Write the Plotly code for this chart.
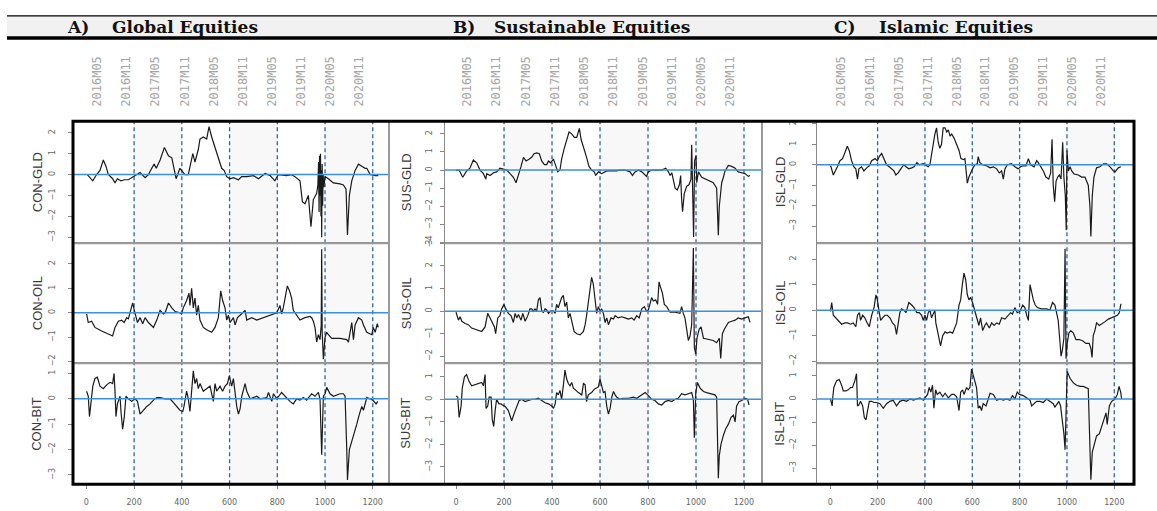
import plotly.graph_objects as go
import math

# ---------------- data (index, value) ----------------
con_gld = [(4,0.0),(27,-0.3),(43,0.0),(57,0.2),(71,0.7),(82,0.4),(92,0.0),(110,-0.2),(120,-0.4),(130,-0.2),
           (145,-0.3),(160,-0.25),(176,-0.25),(197,-0.1),(214,0.0),(225,0.1),(246,-0.15),(260,0.0),(274,0.3),(284,0.5),
           (293,0.3),(309,0.7),(327,1.3),(344,0.9),(358,0.8),(376,-0.2),(392,0.3),(404,0.1),(413,0.0),(427,0.0),
           (446,1.0),(455,0.6),(469,1.2),(476,1.7),(490,1.8),(504,1.7),(514,2.3),(525,1.8),(539,1.3),(553,0.7),
           (567,0.3),(577,0.2),(588,-0.1),(602,-0.2),(616,-0.15),(637,-0.25),(651,-0.1),(672,-0.1),(700,-0.05),(721,-0.2),
           (749,0.05),(770,-0.05),(790,-0.3),(804,0.0),(839,-0.05),(860,0.0),(874,-0.1),(895,-0.3),(905,-1.3),(916,-1.4),
           (930,-1.0),(941,-2.5),(951,-1.2),(965,-0.9),(970,-0.5),(973,0.6),(975,-1.8),(977,0.9),(979,-1.0),(981,1.0),
           (983,-2.0),(985,0.2),(986,-3.0),(988,0.5),(990,-1.5),(992,0.0),(995,-0.6),(1000,-0.1),(1014,-0.2),(1035,-0.4),
           (1063,-0.45),(1077,-0.5),(1088,-0.7),(1094,-2.9),(1102,-1.0),(1112,-0.3),(1126,0.2),(1140,0.5),(1154,0.4),(1168,0.3),
           (1175,0.3),(1189,0.0),(1210,-0.05),(1223,-0.05)]
con_oil = [(1,-0.05),(8,-0.4),(22,-0.35),(36,-0.6),(64,-0.75),(78,-0.8),(99,-0.9),(110,-0.95),(120,-0.6),(134,-0.35),
           (148,-0.3),(158,-0.4),(169,-0.2),(176,-0.25),(183,0.0),(194,0.4),(201,0.1),(214,-0.4),(225,-0.2),(236,-0.45),
           (246,-0.2),(260,-0.4),(281,-0.6),(295,-0.3),(309,0.1),(323,-0.05),(330,0.0),(344,0.4),(358,0.2),(372,0.05),
           (392,0.0),(399,-0.05),(406,0.2),(420,0.5),(430,0.8),(434,0.3),(441,1.0),(448,0.2),(455,0.6),(462,-0.1),
           (469,0.3),(476,-0.3),(490,-0.6),(504,-0.7),(525,-0.8),(539,-0.6),(553,-0.2),(563,0.9),(571,0.5),(581,0.2),
           (588,-0.3),(595,-0.1),(602,-0.4),(616,-0.2),(623,-0.5),(633,-0.2),(644,-0.1),(665,0.1),(672,-0.3),(693,-0.2),
           (714,-0.3),(742,-0.2),(756,-0.15),(777,-0.1),(790,-0.05),(798,0.0),(811,0.3),(818,-0.05),(825,0.2),(842,1.1),
           (851,0.9),(860,0.6),(867,0.1),(881,-0.1),(895,-0.3),(916,-0.2),(937,-0.15),(944,-0.2),(951,-0.35),(958,-0.6),
           (965,-1.2),(972,-0.9),(979,-1.1),(984,-0.5),(986,2.6),(988,-0.8),(993,-1.9),(1000,-1.0),(1007,-0.8),(1014,-0.9),
           (1028,-1.05),(1063,-1.05),(1091,-1.1),(1098,-1.2),(1105,-0.7),(1112,-0.4),(1119,-1.1),(1126,-0.5),(1140,-0.2),(1154,-0.3),
           (1161,-0.5),(1175,-0.8),(1196,-0.9),(1202,-0.6),(1210,-0.8),(1219,-0.45),(1223,-0.6)]
con_bit = [(1,0.3),(4,0.2),(8,0.1),(13,-0.7),(18,-0.2),(27,0.5),(36,0.8),(46,0.85),(57,0.5),(71,0.4),
           (85,0.55),(99,0.65),(110,0.6),(116,1.0),(120,0.3),(124,-0.7),(130,-0.2),(141,0.1),(145,-0.5),(152,-1.2),
           (159,-0.7),(166,0.1),(176,0.0),(190,-0.1),(204,0.0),(214,-0.1),(225,-0.6),(239,-0.45),(253,-0.3),(267,-0.2),
           (281,-0.05),(295,0.05),(309,0.05),(330,0.0),(351,0.0),(365,-0.15),(378,-0.3),(392,-0.45),(404,-0.5),(409,-0.3),
           (420,0.3),(427,0.0),(434,-0.5),(441,0.3),(448,1.1),(455,0.6),(462,0.8),(469,0.4),(476,0.6),(490,0.3),
           (504,0.4),(518,0.5),(525,0.2),(532,-0.1),(539,0.6),(546,0.3),(560,0.5),(571,0.3),(581,0.5),(591,0.6),
           (599,0.9),(609,0.5),(616,0.8),(623,0.1),(630,-0.3),(637,-0.6),(644,-0.4),(651,0.1),(658,0.4),(665,0.6),
           (672,0.3),(686,0.0),(700,0.05),(714,0.1),(728,0.0),(756,0.05),(763,0.25),(770,0.1),(777,-0.1),(784,0.2),
           (798,0.0),(818,0.25),(832,0.1),(853,-0.1),(867,-0.2),(881,0.0),(895,-0.05),(909,0.05),(923,-0.05),(944,0.2),
           (958,0.1),(972,0.25),(979,0.0),(986,-2.2),(993,0.1),(1000,0.2),(1007,0.45),(1021,0.2),(1035,0.1),(1049,0.15),
           (1063,0.2),(1077,0.2),(1084,0.1),(1091,-2.0),(1094,-3.2),(1102,-2.0),(1112,-1.7),(1126,-1.3),(1133,-1.0),(1144,-0.6),
           (1154,-0.3),(1161,-0.45),(1168,-0.2),(1175,0.05),(1189,0.0),(1200,-0.05),(1214,-0.2),(1221,-0.1)]

sus_gld = [(0,0.0),(13,0.0),(24,-0.3),(28,-0.4),(44,-0.05),(58,0.1),(72,0.55),(86,0.4),(100,0.0),(114,-0.2),
           (124,-0.5),(128,-0.2),(142,-0.3),(156,-0.15),(169,-0.1),(183,0.1),(197,0.05),(211,0.0),(225,-0.2),(239,-0.4),
           (250,-0.7),(260,-0.3),(271,0.2),(281,0.7),(292,0.5),(304,0.6),(315,0.7),(325,0.9),(336,0.95),(347,0.9),
           (357,0.5),(368,0.3),(378,0.3),(385,0.5),(394,0.4),(406,0.6),(413,0.3),(424,-0.1),(433,0.0),(440,0.6),
           (451,1.2),(461,1.6),(471,2.1),(482,2.0),(493,1.8),(503,1.8),(514,2.3),(521,1.7),(531,1.3),(544,0.7),
           (554,0.2),(565,0.0),(576,-0.1),(582,-0.3),(593,-0.1),(607,-0.2),(628,-0.05),(649,-0.05),(669,-0.05),(683,0.0),
           (704,0.0),(725,-0.1),(735,-0.3),(746,-0.1),(760,0.0),(774,-0.1),(794,-0.35),(801,-0.1),(815,0.0),(836,0.0),
           (857,0.0),(874,0.1),(885,-0.1),(892,-0.3),(899,-0.15),(913,-1.0),(922,-1.1),(931,-0.8),(936,-0.3),(940,-1.6),
           (944,-2.3),(951,-1.3),(961,-0.9),(971,-0.8),(979,-0.5),(982,1.4),(986,-0.8),(990,-3.7),(994,0.5),(1000,0.8),
           (1003,-0.7),(1010,-0.1),(1024,-0.4),(1038,-0.5),(1058,-0.6),(1072,-0.7),(1086,-1.0),(1090,-2.5),(1093,-3.6),(1097,-2.0),
           (1107,-0.7),(1114,-0.4),(1121,-0.05),(1135,0.25),(1149,0.2),(1163,0.1),(1176,-0.1),(1190,-0.15),(1204,-0.2),(1218,-0.35),
           (1225,-0.3)]
sus_oil = [(0,-0.05),(10,-0.4),(17,-0.25),(24,-0.45),(38,-0.55),(51,-0.6),(65,-0.75),(79,-0.8),(93,-0.85),(107,-0.9),
           (121,-0.7),(132,-0.1),(142,-0.3),(151,-0.5),(160,-0.7),(165,-1.0),(174,-0.3),(183,-0.2),(190,0.1),(200,0.3),
           (207,0.1),(218,-0.1),(229,-0.2),(239,-0.5),(246,-0.1),(253,-0.3),(260,-0.15),(271,-0.4),(278,-0.1),(288,-0.45),
           (299,-0.2),(308,0.1),(315,0.1),(322,0.0),(329,0.1),(336,0.0),(343,0.5),(350,0.6),(357,0.0),(364,-0.05),
           (371,0.1),(378,0.05),(385,-0.1),(394,0.0),(406,0.0),(413,-0.1),(419,0.3),(426,0.15),(433,0.4),(440,0.6),
           (447,0.7),(454,0.2),(461,0.4),(468,-0.3),(475,-0.1),(482,-0.5),(492,-0.9),(503,-1.0),(517,-1.05),(531,-0.9),
           (538,-0.6),(544,-0.2),(551,0.4),(558,0.8),(565,1.5),(572,1.2),(579,0.6),(586,-0.1),(593,0.2),(600,0.0),
           (607,0.1),(614,-0.1),(621,-0.5),(628,-0.3),(635,-0.6),(646,-0.3),(656,-0.35),(663,-0.2),(676,-0.3),(690,-0.25),
           (704,-0.3),(718,-0.35),(732,-0.3),(742,-0.4),(753,-0.2),(763,-0.3),(774,0.1),(785,0.2),(794,0.0),(801,0.05),
           (808,0.3),(815,0.6),(822,0.45),(832,0.5),(840,0.3),(846,1.3),(851,1.1),(860,0.8),(868,0.3),(878,0.2),
           (892,-0.05),(913,-0.05),(933,-0.1),(940,0.2),(947,-0.1),(954,-0.3),(961,-0.8),(968,-1.3),(975,-1.1),(982,-0.6),
           (989,2.8),(993,-1.6),(999,-1.9),(1004,-1.2),(1013,-0.8),(1021,-0.7),(1031,-1.2),(1051,-1.25),(1072,-1.3),(1086,-1.4),
           (1097,-1.2),(1103,-2.1),(1110,-1.0),(1118,-0.8),(1128,-0.6),(1135,-0.5),(1149,-0.45),(1163,-0.4),(1176,-0.3),(1190,-0.35),
           (1204,-0.3),(1218,-0.25),(1225,-0.5)]
sus_bit = [(0,0.15),(7,0.1),(13,-0.8),(21,-0.3),(26,0.5),(35,1.0),(44,1.1),(54,0.8),(65,0.6),(79,0.65),
           (93,0.7),(107,0.75),(114,0.6),(121,1.1),(125,-0.4),(132,-0.3),(138,0.1),(146,0.1),(151,-0.9),(157,-1.2),
           (163,-0.5),(169,0.0),(179,-0.2),(188,-0.2),(193,-0.25),(204,-0.3),(218,-0.5),(232,-0.95),(243,-0.6),(253,-0.35),
           (263,-0.05),(274,0.0),(288,-0.1),(301,-0.05),(315,0.0),(329,0.0),(343,0.05),(357,-0.05),(371,-0.15),(385,-0.2),
           (399,-0.3),(406,-0.4),(413,-0.2),(419,0.3),(426,0.2),(433,0.4),(440,0.0),(447,0.6),(454,1.3),(461,0.9),
           (468,0.7),(475,0.6),(482,0.75),(489,0.5),(499,0.4),(510,0.3),(524,0.2),(531,0.7),(538,0.65),(544,-0.1),
           (551,0.2),(565,0.3),(576,0.45),(586,0.5),(593,0.55),(600,0.9),(607,0.6),(614,0.3),(621,0.35),(628,-0.3),
           (635,-0.65),(642,-0.4),(649,0.1),(656,0.35),(663,0.2),(669,0.1),(683,0.0),(697,0.05),(718,0.05),(739,0.1),
           (753,0.05),(774,0.2),(788,0.3),(799,0.2),(808,0.1),(815,0.0),(829,-0.05),(843,-0.2),(857,-0.25),(871,-0.1),
           (885,-0.05),(899,-0.1),(913,0.0),(926,0.05),(940,0.25),(954,0.2),(968,0.25),(982,0.3),(989,0.0),(993,-1.7),
           (999,0.3),(1006,0.75),(1017,0.5),(1031,0.35),(1044,0.3),(1058,0.25),(1079,0.2),(1086,0.1),(1090,-1.5),(1093,-3.5),
           (1097,-2.5),(1104,-2.0),(1114,-1.6),(1124,-1.3),(1135,-1.1),(1146,-0.8),(1156,-0.7),(1163,-1.0),(1169,-0.3),(1179,-0.1),
           (1190,-0.05),(1204,0.05),(1215,0.0),(1221,-0.25)]

isl_gld = [(1,-0.05),(3,-0.1),(13,-0.5),(20,-0.3),(30,-0.1),(41,0.2),(52,0.3),(62,0.6),(72,0.9),(80,0.7),
           (90,0.2),(100,-0.1),(108,-0.2),(115,-0.7),(121,-0.2),(132,-0.1),(142,-0.3),(154,-0.15),(165,-0.05),(175,0.2),
           (189,0.3),(199,0.2),(207,0.4),(217,0.55),(227,0.3),(238,0.0),(249,-0.1),(259,-0.2),(269,-0.3),(277,-0.5),
           (287,-0.4),(301,-0.15),(311,0.0),(320,-0.1),(332,-0.2),(344,-0.15),(354,-0.1),(366,0.1),(376,0.0),(393,0.05),
           (407,-0.05),(414,-0.1),(421,0.0),(428,0.5),(434,1.0),(442,1.5),(449,1.8),(456,1.1),(463,0.8),(470,1.0),
           (477,1.8),(485,1.8),(492,1.6),(499,1.7),(506,1.4),(513,1.5),(523,1.3),(534,1.0),(544,0.7),(552,0.3),
           (562,0.25),(569,0.3),(573,-0.2),(579,-0.9),(586,-0.6),(593,-0.4),(601,-0.2),(611,0.0),(621,0.05),(625,0.4),
           (632,0.1),(644,0.0),(660,-0.05),(675,-0.15),(689,-0.1),(703,-0.2),(714,-0.4),(724,-0.3),(731,-0.7),(738,-0.2),
           (748,0.0),(766,0.05),(780,-0.1),(794,-0.2),(804,-0.1),(815,-0.05),(827,-0.05),(837,0.3),(846,0.0),(861,-0.1),
           (872,0.2),(879,0.1),(889,-0.1),(900,-0.3),(911,-0.6),(923,-0.7),(931,-0.4),(937,1.25),(942,-1.0),(948,-1.8),
           (954,-0.8),(961,-0.6),(968,-0.5),(975,-0.7),(982,1.1),(987,-0.6),(993,-1.5),(997,-3.2),(1000,0.7),(1006,-0.3),
           (1013,-0.1),(1020,-0.3),(1030,-0.45),(1048,-0.5),(1062,-0.6),(1076,-0.6),(1090,-1.0),(1097,-2.0),(1101,-3.5),(1107,-1.5),
           (1114,-0.6),(1125,-0.15),(1139,-0.1),(1154,0.05),(1168,0.05),(1182,-0.1),(1196,-0.3),(1203,-0.35),(1217,-0.15),(1228,-0.1)]
isl_oil = [(1,-0.05),(6,0.3),(13,-0.2),(24,-0.3),(34,-0.4),(48,-0.55),(62,-0.5),(73,-0.5),(86,-0.55),(97,-0.5),
           (108,-0.65),(115,-0.2),(123,-0.1),(128,-0.4),(137,-0.2),(146,-0.3),(156,-0.5),(165,-0.65),(175,-0.2),(185,0.1),
           (193,0.6),(199,0.4),(207,-0.1),(213,-0.4),(221,-0.3),(231,-0.2),(241,-0.2),(252,-0.3),(263,-0.5),(273,-0.6),
           (280,-0.95),(287,-0.5),(294,-0.1),(301,0.05),(311,0.0),(320,-0.1),(332,0.3),(344,0.2),(354,0.1),(366,-0.1),
           (376,-0.1),(386,-0.2),(393,-0.4),(400,-0.2),(407,-0.4),(414,-0.1),(421,0.0),(428,-0.3),(438,-0.1),(442,0.0),
           (446,-0.5),(454,-0.9),(461,-1.3),(466,-1.4),(475,-1.0),(485,-0.85),(494,-0.9),(506,-0.85),(517,-0.9),(527,-0.7),
           (534,-0.5),(544,0.2),(551,0.4),(558,1.0),(565,1.45),(572,1.2),(579,0.6),(586,0.4),(593,0.5),(601,0.3),
           (607,0.1),(617,-0.2),(621,-0.4),(628,-0.6),(635,-0.3),(644,-0.8),(653,-0.6),(660,-0.5),(672,-0.7),(682,-0.5),
           (692,-0.6),(703,-0.5),(714,-0.55),(724,-0.3),(738,-0.35),(752,-0.2),(762,-0.1),(770,-0.15),(780,0.1),(790,-0.1),
           (801,-0.05),(813,0.2),(822,0.1),(830,-0.2),(837,-0.4),(844,1.0),(851,0.7),(858,0.4),(866,0.2),(875,0.1),
           (893,0.05),(914,0.05),(928,0.0),(939,0.3),(949,0.2),(956,-0.1),(963,-0.4),(970,-1.2),(975,-1.8),(980,-1.6),
           (987,-1.1),(992,2.4),(996,-1.9),(1001,-1.3),(1008,-0.9),(1016,-0.8),(1027,-0.9),(1038,-1.15),(1052,-1.15),(1066,-1.2),
           (1080,-1.3),(1094,-1.3),(1101,-1.5),(1106,-1.85),(1111,-1.0),(1118,-0.8),(1125,-0.5),(1137,-0.6),(1146,-0.55),(1161,-0.45),
           (1175,-0.35),(1189,-0.3),(1203,-0.25),(1213,-0.2),(1221,-0.1),(1228,0.25)]
isl_bit = [(1,0.0),(4,-0.1),(8,-0.3),(10,0.0),(15,0.5),(27,0.8),(38,0.85),(48,0.6),(55,0.35),(66,0.35),
           (76,0.4),(86,0.5),(94,0.5),(104,0.8),(111,1.1),(115,-0.3),(121,-0.25),(128,-0.1),(137,-0.3),(144,-0.8),
           (151,-0.9),(156,-0.6),(165,-0.1),(175,-0.1),(185,-0.15),(196,-0.15),(210,-0.2),(224,-0.4),(238,-0.2),(252,-0.1),
           (266,-0.05),(280,-0.3),(294,-0.1),(308,-0.05),(322,-0.1),(337,0.0),(351,-0.05),(366,0.0),(379,0.05),(393,-0.05),
           (404,0.1),(411,0.2),(418,0.5),(425,0.3),(432,0.6),(438,-0.4),(445,0.4),(452,0.2),(463,0.3),(475,0.1),
           (485,0.25),(499,0.05),(513,0.2),(523,0.2),(534,0.1),(544,-0.5),(551,0.3),(559,0.4),(565,0.2),(576,0.5),
           (583,0.4),(590,0.5),(597,1.3),(604,1.0),(611,0.8),(618,0.5),(625,-0.4),(632,-0.3),(639,-0.5),(646,-0.2),
           (658,-0.3),(668,0.0),(675,0.25),(689,0.2),(703,-0.05),(717,0.0),(731,-0.05),(745,0.0),(759,-0.05),(770,0.15),
           (780,0.0),(790,0.3),(799,0.2),(815,0.15),(830,0.05),(844,-0.05),(851,-0.3),(861,-0.2),(872,-0.1),(886,-0.1),
           (900,-0.15),(914,0.0),(928,-0.1),(942,-0.2),(949,-0.35),(956,-0.25),(966,-0.1),(973,-0.3),(980,-0.9),(987,-1.5),
           (992,-2.2),(996,-1.0),(1001,1.2),(1013,0.9),(1027,0.7),(1041,0.6),(1055,0.55),(1069,0.55),(1083,0.5),(1090,0.45),
           (1094,-1.0),(1097,-2.0),(1101,-3.5),(1107,-2.3),(1115,-2.0),(1125,-1.6),(1137,-1.5),(1146,-1.2),(1156,-0.8),(1165,-0.6),
           (1170,-1.1),(1179,-0.3),(1189,-0.1),(1203,0.0),(1213,0.2),(1220,0.55),(1227,0.3),(1231,0.0)]

panel_letters = ["A)", "B)", "C)"]
panel_titles = ["Global Equities", "Sustainable Equities", "Islamic Equities"]
prefixes = ["CON", "SUS", "ISL"]
assets = ["GLD", "OIL", "BIT"]
top_tick_labels = ["2016M05", "2016M11", "2017M05", "2017M11", "2018M05",
                   "2018M11", "2019M05", "2019M11", "2020M05", "2020M11"]
top_tick_pos = [46, 168, 290, 412, 534, 656, 778, 900, 1022, 1144]
bottom_ticks = [0, 200, 400, 600, 800, 1000, 1200]
grid_pos = [200, 400, 600, 800, 1000, 1200]
shade_spans = [(200, 400), (600, 800), (1000, 1200)]

series = [[con_gld, con_oil, con_bit], [sus_gld, sus_oil, sus_bit], [isl_gld, isl_oil, isl_bit]]

# ---------------- layout geometry (pixels of the 1157x511 page) ----------------
W, H = 1157, 511
def fx(p): return p / W
def fy(p): return 1 - p / H
def sfx(k): return "" if k == 1 else str(k)

panel_px = [(73, 389), (445, 762), (817, 1133)]
panel_xrange = [(-56, 1268), (-46, 1275), (-56, 1279)]
row_px = [(119, 243), (243, 365), (365, 488)]
yranges = [[(-3.29, 2.56), (-2.07, 2.85), (-3.37, 1.40)],
           [(-4.04, 2.70), (-2.31, 3.01), (-3.77, 1.60)],
           [(-3.83, 2.13), (-2.08, 2.62), (-3.70, 1.55)]]
ylab_x = [37, 406, 780]
ytick_standoff = [10, 5, 13]
header_letter_x = [65, 451, 832]
header_title_x = [110, 492, 877]

fig = go.Figure()
shapes = []
annotations = []
layout = {}

k = 0
for p in range(3):
    x0, x1 = panel_px[p]
    for r in range(3):
        k += 1
        s = sfx(k)
        xs, ys = zip(*series[p][r])
        fig.add_trace(go.Scatter(x=list(xs), y=list(ys), mode="lines",
                                 line=dict(color="#1a1a1a", width=1.2),
                                 xaxis=f"x{s}", yaxis=f"y{s}", showlegend=False,
                                 hoverinfo="skip"))
        top, bot = row_px[r]
        ylo, yhi = yranges[p][r]
        xa = dict(domain=[fx(x0), fx(x1)], range=list(panel_xrange[p]), anchor=f"y{s}",
                  showgrid=False, zeroline=False, showline=True, mirror=True,
                  linecolor="#8a8a8a", linewidth=1)
        if r == 0:
            xa.update(side="top", tickmode="array", tickvals=top_tick_pos, ticktext=top_tick_labels,
                      tickangle=-90, ticks="", ticklabelstandoff=11,
                      tickfont=dict(family="DejaVu Sans Mono", size=12, color="#a5a5a5"))
        elif r == 1:
            xa.update(showticklabels=False, ticks="")
        else:
            xa.update(tickmode="array", tickvals=bottom_ticks, ticks="outside", ticklen=4,
                      tickcolor="#888", ticklabelstandoff=6,
                      tickfont=dict(family="DejaVu Sans", size=8, color="#666"))
        layout[f"xaxis{s}"] = xa
        yt = list(range(math.ceil(ylo), math.floor(yhi) + 1))
        layout[f"yaxis{s}"] = dict(domain=[fy(bot), fy(top)], range=[ylo, yhi], anchor=f"x{s}",
                                   showgrid=False, zeroline=False, showline=True, mirror=True,
                                   linecolor="#8a8a8a", linewidth=1,
                                   tickmode="array", tickvals=yt, tickangle=-90,
                                   ticks="outside", ticklen=4, tickcolor="#888",
                                   ticklabelstandoff=ytick_standoff[p],
                                   tickfont=dict(family="DejaVu Sans", size=8, color="#666"))
        for a, b in shade_spans:
            shapes.append(dict(type="rect", xref=f"x{s}", yref=f"y{s} domain", x0=a, x1=b, y0=0, y1=1,
                               fillcolor="#f8f8f8", line=dict(width=0), layer="below"))
        for g in grid_pos:
            shapes.append(dict(type="line", xref=f"x{s}", yref=f"y{s} domain", x0=g, x1=g, y0=0, y1=1,
                               line=dict(color="#2a64ab", width=1.3, dash="4px,3px"), layer="below"))
        shapes.append(dict(type="line", xref=f"x{s} domain", yref=f"y{s}", x0=0, x1=1, y0=0, y1=0,
                           line=dict(color="#3a8fe0", width=1.5), layer="above"))
        annotations.append(dict(x=fx(ylab_x[p]), y=fy((top + bot) / 2), xref="paper", yref="paper",
                                text=f"{prefixes[p]}-{assets[r]}", showarrow=False, textangle=-90,
                                font=dict(family="Liberation Sans", size=13, color="#3a3a3a"),
                                xanchor="center", yanchor="middle"))
    for yy in (243, 365):
        shapes.append(dict(type="line", xref="paper", yref="paper", x0=fx(x0), x1=fx(x1),
                           y0=fy(yy), y1=fy(yy), line=dict(color="#9a9a9a", width=2), layer="above"))
    annotations.append(dict(x=fx(header_letter_x[p]), y=fy(23), xref="paper", yref="paper",
                            text=f"<b>{panel_letters[p]}</b>", showarrow=False, xanchor="left", yanchor="middle",
                            font=dict(family="DejaVu Serif", size=17, color="#111")))
    annotations.append(dict(x=fx(header_title_x[p]), y=fy(23), xref="paper", yref="paper",
                            text=f"<b>{panel_titles[p]}</b>", showarrow=False, xanchor="left", yanchor="middle",
                            font=dict(family="DejaVu Serif", size=17, color="#111")))

for xx in (389, 762):
    shapes.append(dict(type="line", xref="paper", yref="paper", x0=fx(xx), x1=fx(xx), y0=fy(119), y1=fy(488),
                       line=dict(color="#9a9a9a", width=2), layer="above"))
shapes.append(dict(type="rect", xref="paper", yref="paper", x0=fx(73), x1=fx(1134), y0=fy(488), y1=fy(119),
                   line=dict(color="black", width=3), layer="above"))
shapes.append(dict(type="rect", xref="paper", yref="paper", x0=fx(7), x1=1, y0=fy(34), y1=fy(12),
                   fillcolor="#f1f1f1", line=dict(width=0), layer="below"))
shapes.append(dict(type="line", xref="paper", yref="paper", x0=fx(7), x1=1, y0=fy(12), y1=fy(12),
                   line=dict(color="black", width=1.2), layer="above"))
shapes.append(dict(type="line", xref="paper", yref="paper", x0=fx(7), x1=1, y0=fy(34.5), y1=fy(34.5),
                   line=dict(color="black", width=3.5), layer="above"))

fig.update_layout(width=W, height=H, margin=dict(l=0, r=0, t=0, b=0),
                  paper_bgcolor="white", plot_bgcolor="white",
                  shapes=shapes, annotations=annotations, **layout)
fig.write_html("out.html")
